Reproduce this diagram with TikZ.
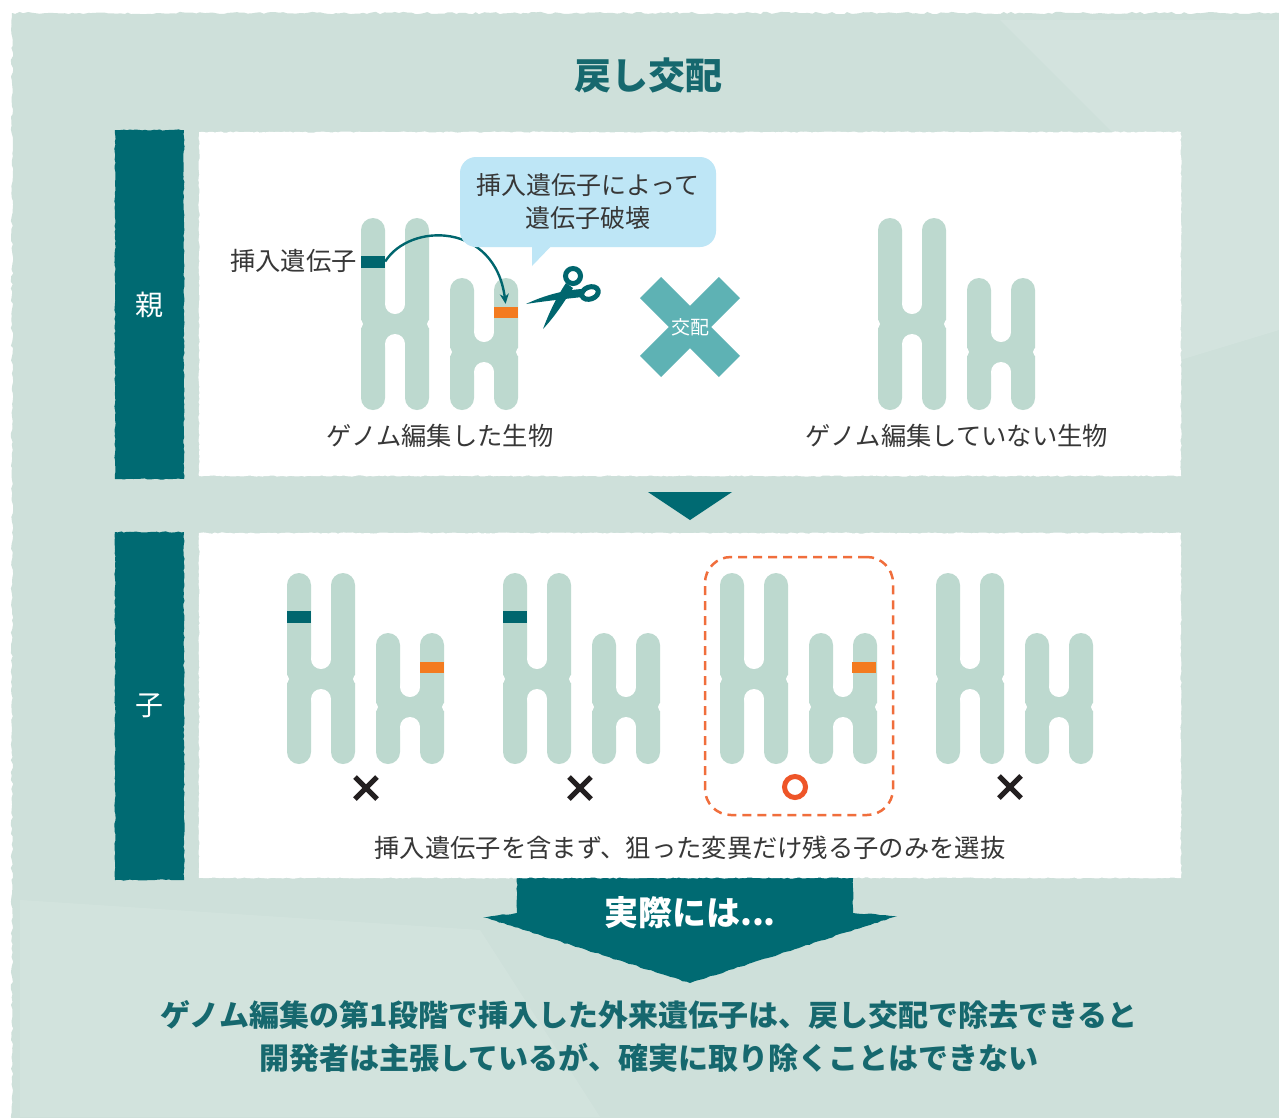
\documentclass[tikz,border=0pt]{standalone}
\usepackage{fontspec}
\setmainfont{Noto Sans CJK JP}
\usetikzlibrary{arrows.meta,decorations.pathmorphing}

\definecolor{bgteal}{RGB}{206,224,218}
\definecolor{chromo}{RGB}{189,217,207}
\definecolor{darkteal}{RGB}{0,106,114}
\definecolor{headteal}{RGB}{22,104,110}
\definecolor{genemark}{RGB}{0,102,110}
\definecolor{targetor}{RGB}{243,123,32}
\definecolor{crossteal}{RGB}{94,178,180}
\definecolor{bubblebl}{RGB}{190,230,246}
\definecolor{txtgray}{RGB}{55,55,55}
\definecolor{dashor}{RGB}{240,110,60}
\definecolor{ringor}{RGB}{238,85,40}
\definecolor{markx}{RGB}{35,31,32}

% one chromosome on a white ground: #1 left edge, #2 top, #3 centromere, #4 bottom
\newcommand\drawchromo[4]{%
  \fill[chromo,rounded corners=12pt] (#1,#2) rectangle (#1+24,#4);
  \fill[chromo,rounded corners=12pt] (#1+44,#2) rectangle (#1+68,#4);
  \fill[chromo] (#1+23,#3-20) rectangle (#1+45,#3+20);
  \fill[white] (#1+34,#3-20) circle[radius=10] (#1+34,#3+20) circle[radius=10];
  \fill[white] (#1-3,#3) circle[radius=5] (#1+71,#3) circle[radius=5];
}
% a pair of chromosomes (large + small) starting at left edge #1
\newcommand\chromopair[6]{% #1 x, #2 top big, #3 cen big, #4 top small, #5 cen small, #6 bottom
  \drawchromo{#1}{#2}{#3}{#6}%
  \drawchromo{#1+89}{#4}{#5}{#6}%
}

\begin{document}
\begin{tikzpicture}[x=1pt,y=-1pt,
  rough/.style={decorate,decoration={random steps,segment length=3pt,amplitude=0.6pt}},
  panel/.style={rough,fill=white,inner sep=0pt},
  sidebar/.style={rough,fill=darkteal,inner sep=0pt,text=white,
    font=\fontsize{28}{30}\selectfont,minimum width=69pt},
  captext/.style={text=txtgray,inner sep=0pt,font=\fontsize{25.3}{30}\selectfont},
  gene/.style={fill=genemark,inner sep=0pt,minimum width=24pt,minimum height=12pt},
  target/.style={fill=targetor,inner sep=0pt,minimum width=24pt,minimum height=11pt},
  nope/.style={draw=markx,line width=5pt},
]
\clip (0,0) rectangle (1279,1117);
\fill[white] (0,0) rectangle (1279,1117);
% textured backdrop
\fill[bgteal,decorate,decoration={random steps,segment length=4pt,amplitude=1.2pt}]
  (12,13) rectangle (1300,1140);
\fill[white,opacity=0.12] (1000,20) -- (1279,20) -- (1279,330) -- (1180,360) -- (1120,140) -- cycle;
\fill[white,opacity=0.10] (20,900) -- (480,930) -- (600,1117) -- (20,1117) -- cycle;

% title
\node[text=headteal,font=\fontsize{37}{40}\selectfont\bfseries] (title) at (648,75) {戻し交配};

% big arrow "in reality"
\fill[darkteal,decorate,decoration={random steps,segment length=4pt,amplitude=0.6pt}]
  (517,870) -- (853,870) -- (853,913) -- (897,916) -- (690,983) -- (483,917) -- (517,913) -- cycle;

% panels and side labels
\node[panel,minimum width=982pt,minimum height=344pt] (panelP) at (690,304) {};
\node[sidebar,minimum height=349pt] (oya) at (149.5,304.5) {親};
\node[panel,minimum width=982pt,minimum height=345pt] (panelC) at (690,705.5) {};
\node[sidebar,minimum height=348pt] (ko) at (149.5,706) {子};
\node[text=white,font=\fontsize{34}{36}\selectfont\bfseries] (reality) at (690,913) {実際には...};

% small arrow between panels
\fill[darkteal] (648,492) -- (732,492) -- (690,520) -- cycle;

% ---- parents ----
\chromopair{361}{218}{324}{278}{352}{410}
\chromopair{878}{218}{324}{278}{352}{410}
\node[gene] (insP) at (373,261.5) {};
\node[target] (tgtP) at (506,312.5) {};
\node[captext,anchor=east] (lblIns) at (357,261) {挿入遺伝子};
\draw[genemark,line width=2.4pt,-{Stealth[length=10pt,width=9pt]},shorten >=3pt]
  (insP.east) .. controls (410,222) and (495,222) .. (tgtP.north);

% speech bubble
\node[fill=bubblebl,rounded corners=16pt,minimum width=256pt,minimum height=90pt,
  align=center,text=txtgray,font=\fontsize{25}{33}\selectfont] (bub) at (588,202)
  {挿入遺伝子によって\\遺伝子破壊};
\fill[bubblebl] (532,240) -- (532,266) -- (557,240) -- cycle;

% scissors
\begin{scope}[genemark]
  \fill (582,289) .. controls (565,290) and (545,295) .. (526,304)
        .. controls (545,301) and (565,299) .. (582,297) -- cycle;
  \fill (566,283) -- (573,288) .. controls (564,302) and (556,315) .. (543,329)
        .. controls (549,313) and (556,298) .. (566,283) -- cycle;
  \draw[line width=5pt] (573,276) circle[radius=7.5];
  \draw[line width=5pt,rotate around={20:(590,293)}] (590,293) ellipse[x radius=8.5,y radius=6];
\end{scope}

% crossing mark
\draw[crossteal,line width=30pt] (650.6,287.6) -- (729.4,366.4);
\draw[crossteal,line width=30pt] (650.6,366.4) -- (729.4,287.6);
\node[text=white,font=\fontsize{19}{20}\selectfont] (kohai) at (690,327) {交配};

\node[captext] (capA) at (440,436) {ゲノム編集した生物};
\node[captext] (capB) at (957,436) {ゲノム編集していない生物};

% ---- offspring ----
\chromopair{287}{573}{679}{633}{707}{764}
\chromopair{503}{573}{679}{633}{707}{764}
\chromopair{720}{573}{679}{633}{707}{764}
\chromopair{936}{573}{679}{633}{707}{764}
\node[gene] (ins1) at (299,616.5) {};
\node[gene] (ins2) at (515,616.5) {};
\node[target] (tgt1) at (432,667.5) {};
\node[target] (tgt3) at (864,667.5) {};

\node[draw=dashor,line width=2.5pt,dash pattern=on 9pt off 6pt,rounded corners=26pt,
  minimum width=188pt,minimum height=258pt,inner sep=0pt] (pick) at (799,686) {};

\draw[nope] (355,777) -- (377,799) (355,799) -- (377,777);
\draw[nope] (569,777) -- (591,799) (569,799) -- (591,777);
\draw[nope] (999,776) -- (1021,798) (999,798) -- (1021,776);
\draw[ringor,line width=5pt] (795,787) circle[radius=10.5];

\node[captext] (capC) at (690,848) {挿入遺伝子を含まず、狙った変異だけ残る子のみを選抜};

% conclusion
\node[align=center,text=headteal,font=\fontsize{30}{43}\selectfont\bfseries] (concl) at (649,1036)
  {ゲノム編集の第1段階で挿入した外来遺伝子は、戻し交配で除去できると\\
   開発者は主張しているが、確実に取り除くことはできない};
\end{tikzpicture}
\end{document}
